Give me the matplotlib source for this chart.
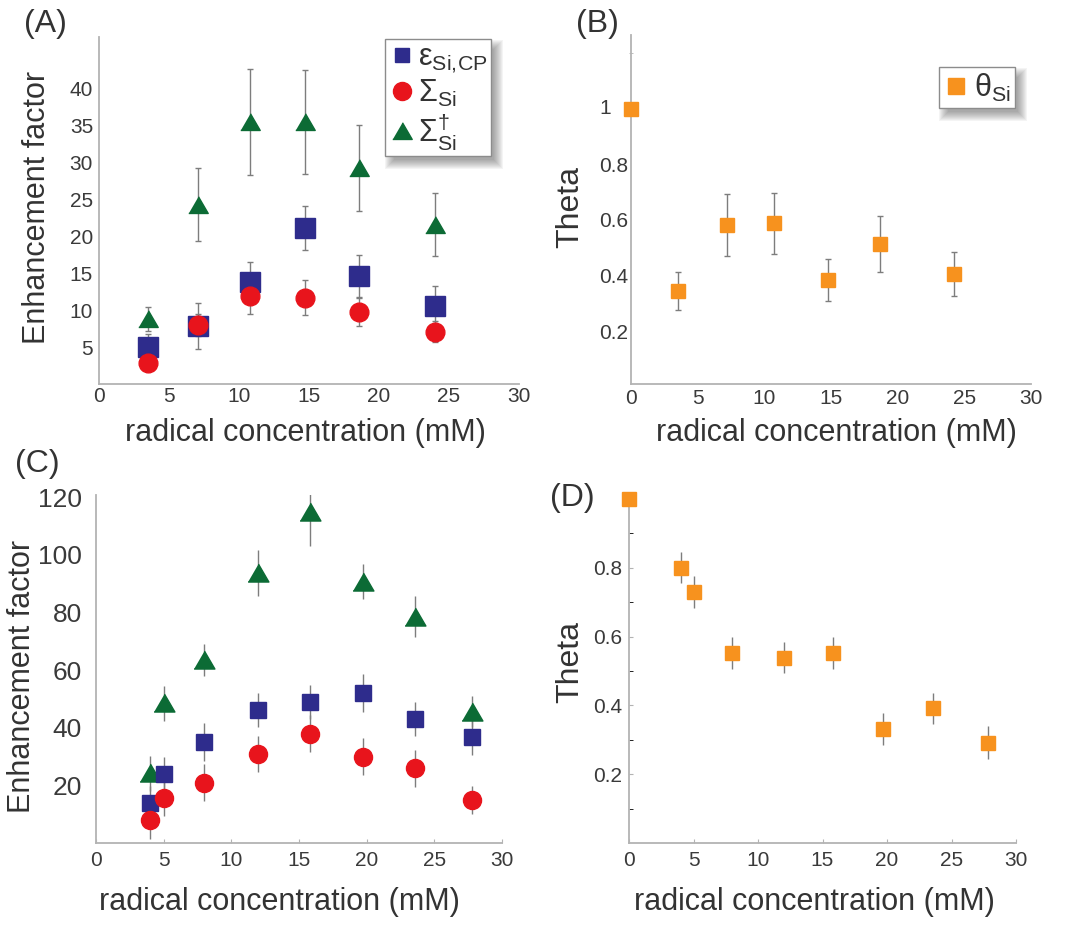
import matplotlib
matplotlib.use("Agg")
import matplotlib.pyplot as plt
from matplotlib.lines import Line2D
from matplotlib.patches import Rectangle
import matplotlib.transforms as mtransforms
import numpy as np

plt.rcParams['font.family'] = ['Liberation Sans', 'DejaVu Sans']
plt.rcParams['mathtext.fontset'] = 'custom'
plt.rcParams['mathtext.rm'] = 'Liberation Sans'
plt.rcParams['mathtext.it'] = 'Liberation Sans'
plt.rcParams['mathtext.bf'] = 'Liberation Sans:bold'

# ---------------- data ----------------
# Panel A
xA = [3.5, 7.1, 10.8, 14.7, 18.6, 24.0]
epsA = [5.0, 7.9, 13.8, 21.1, 14.6, 10.5]
epsA_err = [1.8, 3.1, 2.7, 3.0, 2.9, 2.8]
sigA = [2.9, 8.0, 11.9, 11.7, 9.8, 7.1]
sigA_err = [1.0, 1.5, 2.4, 2.4, 2.0, 1.4]
sdagA = [8.8, 24.3, 35.5, 35.5, 29.3, 21.6]
sdagA_err = [1.6, 4.9, 7.2, 7.0, 5.8, 4.3]

# Panel B
xB = [0.0, 3.5, 7.2, 10.7, 14.8, 18.7, 24.2]
thetaB = [1.0, 0.344, 0.582, 0.588, 0.384, 0.513, 0.405]
thetaB_err = [0.0, 0.068, 0.11, 0.11, 0.075, 0.10, 0.08]

# Panel C
xC = [4.0, 5.0, 8.0, 12.0, 15.8, 19.7, 23.6, 27.8]
epsC = [13.8, 23.8, 35.0, 46.2, 49.0, 52.0, 43.0, 36.9]
epsC_err = [6.0, 6.0, 6.5, 6.0, 6.0, 6.5, 6.0, 6.5]
sigC = [8.0, 15.7, 21.0, 30.9, 38.0, 30.0, 25.9, 14.9]
sigC_err = [6.5, 6.5, 6.5, 6.3, 6.3, 6.3, 6.3, 4.8]
sdagC = [24.2, 48.5, 63.5, 93.6, 115.0, 90.7, 78.6, 45.6]
sdagC_err = [6.0, 6.0, 5.5, 8.0, 12.0, 6.0, 7.0, 5.5]

# Panel D
xD = [0.0, 4.0, 5.0, 8.0, 12.0, 15.8, 19.7, 23.6, 27.8]
thetaD = [1.0, 0.80, 0.73, 0.552, 0.539, 0.552, 0.331, 0.391, 0.292]
thetaD_err = [0.0, 0.045, 0.047, 0.046, 0.046, 0.046, 0.046, 0.046, 0.047]

xticks = [0, 5, 10, 15, 20, 25, 30]
yticksA = [5, 10, 15, 20, 25, 30, 35, 40]
yticksB = [0.2, 0.4, 0.6, 0.8]
ytickB_top = 1.0
ytickB_top_label = '1'
yticksC = [20, 40, 60, 80, 100, 120]
yticksD = [0.2, 0.4, 0.6, 0.8]

xlabel = 'radical concentration (mM)'
ylabel_ef = 'Enhancement factor'
ylabel_th = 'Theta'
lab_eps = r'$\mathrm{ε}_{\mathrm{Si,\!CP}}$'
lab_sig = r'$\mathrm{Σ}_{\mathrm{Si}}$'
lab_sdag = r'$\mathrm{Σ}^{\mathrm{†}}_{\mathrm{Si}}$'
lab_theta = r'$\mathrm{θ}_{\mathrm{Si}}$'

# ---------------- style ----------------
BLUE = '#2e2c8c'
RED = '#e8141c'
GREEN = '#0c6b35'
ORANGE = '#f7921e'
ERR = '#7d7d7d'
SPINE = '#b3b3b3'
TXT = '#333333'
TICKTXT = '#3a3a3a'

W, H = 1067, 925
fig = plt.figure(figsize=(W / 100, H / 100), dpi=100)

def ax_px(left, right, top, bottom):
    a = fig.add_axes([left / W, 1 - bottom / H, (right - left) / W, (bottom - top) / H])
    a.set_facecolor('none')
    return a

def style(ax):
    for s in ['top', 'right']:
        ax.spines[s].set_visible(False)
    for s in ['left', 'bottom']:
        ax.spines[s].set_color(SPINE)
        ax.spines[s].set_linewidth(1.3)
    ax.tick_params(colors=SPINE, labelcolor=TICKTXT)

tri = [(-1, -0.82), (1, -0.82), (0, 0.9)]

def errs(ax, x, y, e, caps):
    ax.errorbar(x, y, yerr=e, fmt='none', ecolor=ERR, elinewidth=1.0,
                capsize=(2.3 if caps else 0), capthick=1.0, zorder=2)

def fx(px):
    return px / W

def fy(py):
    return 1 - py / H

# ---------------- Panel A ----------------
axA = ax_px(99, 519, 37, 384)
style(axA)
errs(axA, xA, sdagA, sdagA_err, True)
errs(axA, xA, epsA, epsA_err, True)
errs(axA, xA, sigA, sigA_err, True)
axA.plot(xA, sdagA, ls='none', marker=tri, ms=14, color=GREEN, zorder=3, clip_on=False)
axA.plot(xA, epsA, ls='none', marker='s', ms=14, color=BLUE, zorder=4, clip_on=False)
axA.plot(xA, sigA, ls='none', marker='o', ms=13.5, color=RED, zorder=4.5, clip_on=False)
axA.set_xlim(0, 30)
axA.set_ylim(0, 47)
axA.set_xticks(xticks)
axA.set_yticks(yticksA)
axA.tick_params(axis='both', length=0, labelsize=15)
axA.tick_params(axis='y', pad=4.3)
axA.tick_params(axis='x', pad=2.5)

hA = [Line2D([], [], ls='none', marker='s', ms=10, color=BLUE),
      Line2D([], [], ls='none', marker='o', ms=13, color=RED),
      Line2D([], [], ls='none', marker=tri, ms=14, color=GREEN)]
legA = axA.legend(hA, [lab_eps, lab_sig, lab_sdag], loc='upper left',
                  bbox_to_anchor=(fx(385), fy(39)), bbox_transform=fig.transFigure,
                  borderaxespad=0, fontsize=22, frameon=True, fancybox=False,
                  framealpha=1.0, facecolor='white',
                  handlelength=0.85, handletextpad=0.1, borderpad=0.12,
                  labelspacing=0.08)
legA.get_frame().set_edgecolor('#8c8c8c')
legA.get_frame().set_linewidth(1.0)
legA.set_zorder(6)
for t in legA.get_texts():
    t.set_color(TXT)

# ---------------- Panel B ----------------
axB = ax_px(631, 1031, 35, 384)
style(axB)
errs(axB, xB, thetaB, thetaB_err, True)
axB.plot(xB, thetaB, ls='none', marker='s', ms=10.6, color=ORANGE, zorder=3, clip_on=False)
axB.set_xlim(0, 30)
axB.set_ylim(0.01, 1.265)
axB.set_xticks(xticks)
axB.set_yticks(yticksB)
axB.set_yticks([1.2], minor=True)
axB.tick_params(axis='both', length=0, labelsize=15)
axB.tick_params(axis='y', pad=2)
axB.tick_params(axis='x', pad=3.5)
axB.tick_params(axis='y', which='minor', length=3, direction='inout', color=SPINE)
axB.text(-0.05, ytickB_top, ytickB_top_label,
         transform=mtransforms.blended_transform_factory(axB.transAxes, axB.transData),
         ha='right', va='center', fontsize=15, color=TICKTXT)

hB = [Line2D([], [], ls='none', marker='s', ms=11, color=ORANGE)]
legB = axB.legend(hB, [lab_theta], loc='upper left',
                  bbox_to_anchor=(fx(939), fy(67)), bbox_transform=fig.transFigure,
                  borderaxespad=0, fontsize=22, frameon=True, fancybox=False,
                  framealpha=1.0, facecolor='white',
                  handlelength=0.8, handletextpad=0.2, borderpad=0.15)
legB.get_frame().set_edgecolor('#8c8c8c')
legB.get_frame().set_linewidth(1.0)
legB.set_zorder(6)
for t in legB.get_texts():
    t.set_color(TXT)

# ---------------- Panel C ----------------
axC = ax_px(96, 502, 495, 843)
style(axC)
errs(axC, xC, sdagC, sdagC_err, False)
errs(axC, xC, epsC, epsC_err, False)
errs(axC, xC, sigC, sigC_err, False)
axC.plot(xC, sdagC, ls='none', marker=tri, ms=15, color=GREEN, zorder=3)
axC.plot(xC, epsC, ls='none', marker='s', ms=12, color=BLUE, zorder=4)
axC.plot(xC, sigC, ls='none', marker='o', ms=13, color=RED, zorder=5)
axC.set_xlim(0, 30)
axC.set_ylim(0, 120.8)
axC.set_xticks(xticks)
axC.set_yticks(yticksC)
axC.tick_params(axis='x', length=3, direction='in', labelsize=15, pad=5.5)
axC.tick_params(axis='y', length=0, labelsize=19, pad=10)

# ---------------- Panel D ----------------
axD = ax_px(629, 1016, 499, 843)
style(axD)
errs(axD, xD, thetaD, thetaD_err, False)
axD.plot(xD, thetaD, ls='none', marker='s', ms=10, color=ORANGE, zorder=3, clip_on=False)
axD.set_xlim(0, 30)
axD.set_ylim(0, 1.0)
axD.set_xticks(xticks)
axD.set_yticks(yticksD)
axD.set_yticks([0.1, 0.3, 0.5, 0.7, 0.9], minor=True)
axD.tick_params(axis='x', length=3, direction='in', labelsize=15, pad=5.5)
axD.tick_params(axis='y', which='both', length=3, direction='in', labelsize=15, pad=5)

# ---------------- labels ----------------
def lbl(x, y, s, size, rot=0):
    fig.text(fx(x), fy(y), s, ha='center', va='center', rotation=rot,
             fontsize=size, color=TXT)

lbl(305, 433, xlabel, 22)
lbl(836, 433, xlabel, 22)
lbl(279, 902, xlabel, 22)
lbl(814, 902, xlabel, 22)
lbl(37, 207, ylabel_ef, 22, 90)
lbl(22, 676, ylabel_ef, 22, 90)
lbl(570, 207, ylabel_th, 23, 90)
lbl(570, 662, ylabel_th, 23, 90)

lbl(45, 24, '(A)', 23)
lbl(597, 24, '(B)', 23)
lbl(37, 464, '(C)', 23)
lbl(572, 498, '(D)', 23)

# ---------------- soft legend shadows ----------------
fig.canvas.draw()
for ax, leg in [(axA, legA), (axB, legB)]:
    bb = leg.get_frame().get_window_extent()
    ox, oy = 6, -7
    for d in range(-3, 7):
        r = Rectangle((bb.x0 + ox - d, bb.y0 + oy - d), bb.width + 2 * d, bb.height + 2 * d,
                      transform=None, facecolor='#404040', edgecolor='none',
                      alpha=0.055, zorder=5.5, clip_on=False)
        ax.add_artist(r)

fig.savefig('out.png', dpi=100)
